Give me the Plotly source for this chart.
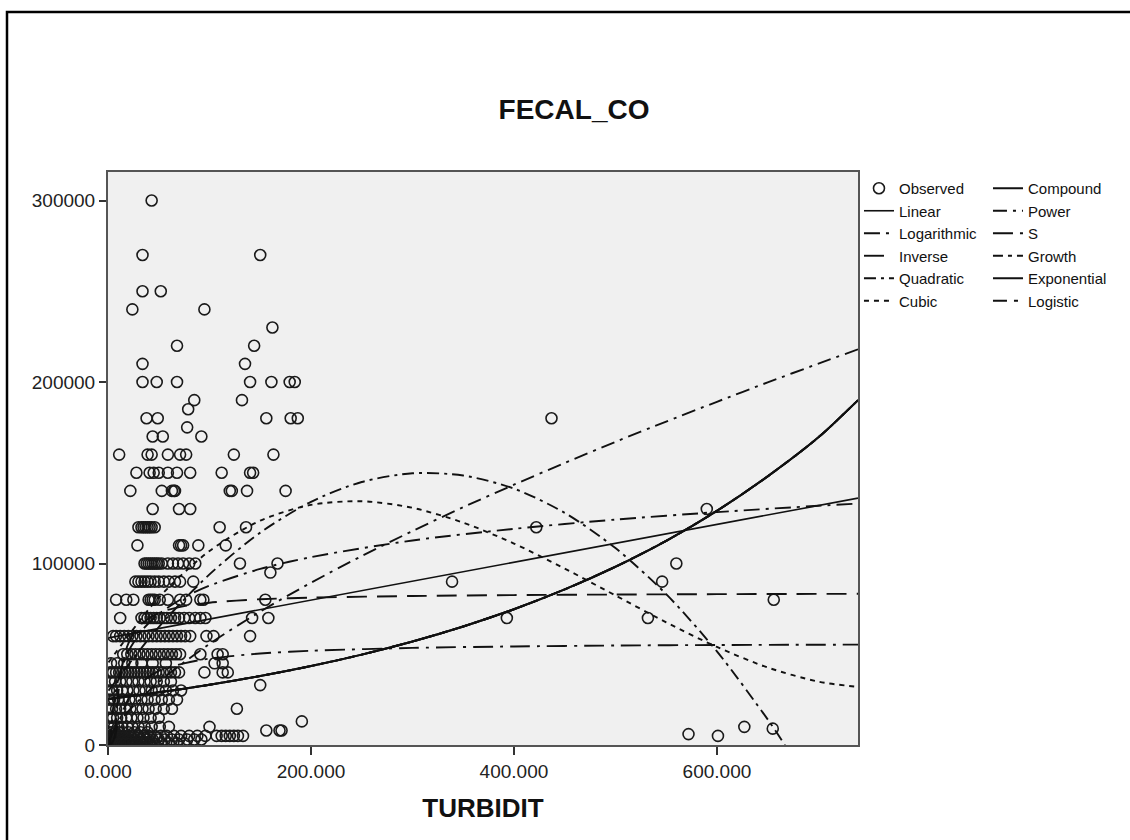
import plotly.graph_objects as go

# Each row: one FECAL_CO level and the TURBIDIT values of the circles on that level
OBS_ROWS = [
    (300000, [43]),
    (270000, [34, 150]),
    (250000, [34, 52]),
    (240000, [24, 95]),
    (230000, [162]),
    (220000, [68, 144]),
    (210000, [34, 135]),
    (200000, [34, 48, 68, 140, 161, 179, 184]),
    (190000, [85, 132]),
    (185000, [79]),
    (180000, [38, 49, 156, 180, 187, 437]),
    (175000, [78]),
    (170000, [44, 54, 92]),
    (160000, [11, 39, 43, 59, 71, 77, 124, 163]),
    (150000, [28, 41, 45, 50, 59, 68, 81, 112, 140, 143]),
    (140000, [22, 53, 63, 65, 66, 120, 122, 137, 175]),
    (130000, [44, 70, 81, 590]),
    (120000, [30, 33, 35, 37, 39, 41, 43, 46, 110, 136, 422]),
    (110000, [29, 70, 72, 74, 89, 116]),
    (100000, [36, 38, 40, 42, 44, 46, 48, 50, 53, 59, 64, 69, 74, 80, 86, 130, 167, 560]),
    (95000, [160]),
    (90000, [27, 30, 33, 36, 39, 42, 46, 50, 55, 60, 66, 71, 84, 339, 546]),
    (80000, [8, 18, 25, 40, 42, 44, 46, 51, 59, 71, 77, 91, 94, 155, 656]),
    (70000, [12, 33, 36, 39, 42, 45, 48, 51, 55, 58, 62, 66, 70, 75, 80, 86, 91, 96, 142, 158, 393, 532]),
    (60000, [5, 8, 12, 16, 20, 24, 28, 32, 36, 40, 44, 48, 52, 56, 60, 64, 68, 72, 76, 81, 97, 104, 140]),
    (50000, [15, 19, 23, 27, 31, 35, 39, 43, 47, 51, 55, 59, 63, 67, 71, 91, 108, 113]),
    (45000, [3, 9, 16, 24, 33, 44, 57, 105, 113]),
    (40000, [2, 5, 8, 11, 14, 17, 20, 23, 26, 29, 32, 35, 38, 41, 44, 47, 50, 54, 58, 62, 66, 70, 95, 113, 118]),
    (35000, [3, 7, 12, 18, 24, 30, 36, 42, 48, 55, 62]),
    (33000, [150]),
    (30000, [1, 4, 9, 14, 19, 25, 31, 37, 43, 50, 57, 64, 72]),
    (25000, [2, 6, 10, 15, 21, 27, 33, 39, 46, 53, 60, 68]),
    (20000, [1, 4, 8, 12, 17, 22, 28, 34, 40, 47, 55, 63, 127]),
    (15000, [2, 5, 9, 13, 18, 23, 29, 35, 42, 50]),
    (13000, [191]),
    (10000, [1, 3, 6, 10, 14, 19, 24, 30, 36, 43, 51, 60, 100, 627]),
    (9000, [655]),
    (8000, [156, 169, 171]),
    (7000, [1, 4, 7, 11, 15, 20, 26, 32, 39]),
    (6000, [572]),
    (5000, [2, 5, 8, 12, 16, 20, 25, 30, 35, 40, 46, 52, 58, 65, 72, 80, 88, 96,
             107, 112, 116, 120, 124, 128, 133, 601]),
    (4000, [1, 3, 5, 8, 11, 15, 19, 24, 29, 35, 41, 48]),
    (3000, [1, 3, 6, 9, 13, 17, 21, 26, 31, 37, 44, 50, 56, 63, 70, 78, 85, 92]),
    (2000, [1, 2, 5, 9, 13, 18, 23, 28, 34, 41]),
    (1500, [1, 3, 6, 9, 12, 16, 21, 26, 32, 39]),
    (1000, [0.5, 2, 4, 7, 10, 14, 18, 22, 27, 33, 38, 45, 52, 60, 68, 75]),
    (500, [1, 3, 5, 8, 12, 16, 20, 25, 30, 36, 42]),
]

# ---------------- Fitted curves, values ----------------
LINEAR_X = [0.5, 739]
LINEAR_Y = [59000, 136000]

LOG_X = [2, 5, 10, 20, 35, 50, 75, 100, 150, 200, 300, 400, 500, 600, 700, 739]
LOG_Y = [0, 20150, 35800, 51500, 64100, 72200, 81300, 87800, 97000, 103500,
         112700, 119100, 124200, 128300, 131800, 133000]

INV_X = [7, 10, 15, 20, 30, 50, 75, 100, 150, 200, 300, 400, 500, 600, 739]
INV_Y = [3600, 27800, 46500, 55900, 65300, 72800, 76500, 78400, 80300, 81200,
         82100, 82600, 82900, 83100, 83300]

QUAD_X = [0.5, 50, 100, 150, 200, 250, 300, 350, 400, 450, 500, 550, 600, 650, 667]
QUAD_Y = [30000, 65000, 94000, 117000, 134000, 144900, 149700, 148500, 141250,
          127900, 108500, 83100, 51600, 14100, 0]

CUBIC_X = [0.5, 50, 100, 150, 200, 250, 300, 350, 400, 450, 500, 550, 600, 650, 700, 739]
CUBIC_Y = [45500, 81200, 106900, 123600, 132300, 134300, 130700, 122500, 111000,
           97200, 82400, 67600, 54000, 42700, 34900, 32000]

POWER_X = [1, 5, 10, 20, 50, 100, 150, 200, 250, 300, 350, 400, 450, 500, 550, 600, 650, 700, 739]
POWER_Y = [2400, 7200, 11600, 18600, 34700, 55700, 73500, 89400, 104100, 117900,
           131000, 143400, 155400, 167000, 178200, 189100, 199800, 210100, 218000]

S_X = [3, 5, 10, 20, 30, 50, 75, 100, 150, 200, 300, 400, 500, 600, 739]
S_Y = [300, 2300, 11400, 25300, 33000, 40800, 45000, 47600, 50400, 51900,
       53500, 54300, 54800, 55100, 55300]

# Compound / Growth / Exponential / Logistic give the same fitted curve
EXP_X = [0.5, 50, 100, 150, 200, 250, 300, 350, 400, 450, 500, 550, 600, 650, 700, 739]
EXP_Y = [25300, 29000, 33200, 38000, 43500, 49800, 57000, 65300, 74800, 85700,
         98200, 112500, 129000, 148000, 169500, 190000]

X_TICKS = [0, 200, 400, 600]
Y_TICKS = [0, 100000, 200000, 300000]

obs_x, obs_y = [], []
for fec, turbs in OBS_ROWS:
    for t in turbs:
        obs_x.append(t)
        obs_y.append(fec)

FONT = "Liberation Sans, Arial, sans-serif"
INK = "#111111"

fig = go.Figure()

fig.add_trace(go.Scatter(
    x=obs_x, y=obs_y, mode="markers", name="Observed", legend="legend",
    marker=dict(symbol="circle-open", size=11, color="#1a1a1a", line=dict(width=1.6)),
))

curves = [
    # name, x, y, dash, width, legend
    ("Compound", EXP_X, EXP_Y, "solid", 2.0, "legend2"),
    ("Linear", LINEAR_X, LINEAR_Y, "solid", 1.6, "legend"),
    ("Power", POWER_X, POWER_Y, "14px,6px,3px,6px", 1.9, "legend2"),
    ("Logarithmic", LOG_X, LOG_Y, "16px,6px,3px,6px", 1.9, "legend"),
    ("S", S_X, S_Y, "20px,7px,3px,7px", 1.9, "legend2"),
    ("Inverse", INV_X, INV_Y, "20px,10px", 1.9, "legend"),
    ("Growth", EXP_X, EXP_Y, "10px,5px,4px,5px", 2.0, "legend2"),
    ("Quadratic", QUAD_X, QUAD_Y, "12px,5px,3px,5px", 1.9, "legend"),
    ("Exponential", EXP_X, EXP_Y, "solid", 2.0, "legend2"),
    ("Cubic", CUBIC_X, CUBIC_Y, "5px,5px", 1.9, "legend"),
    ("Logistic", EXP_X, EXP_Y, "14px,7px,4px,7px", 2.0, "legend2"),
]
for name, cx, cy, dash, w, lg in curves:
    fig.add_trace(go.Scatter(
        x=cx, y=cy, mode="lines", name=name, legend=lg,
        line=dict(color=INK, width=w, dash=dash, shape="spline", smoothing=0.8),
    ))

col_legend = dict(
    font=dict(family=FONT, size=15, color="#111111"),
    bgcolor="rgba(0,0,0,0)", borderwidth=0,
    xanchor="left", yanchor="top", y=1.0, tracegroupgap=0,
)

fig.update_layout(
    width=1130, height=840,
    margin=dict(l=108, r=272, t=172, b=95),
    paper_bgcolor="white",
    plot_bgcolor="#F0F0F0",
    font=dict(family=FONT, color="#222222"),
    title=dict(text="<b>FECAL_CO</b>", font=dict(family=FONT, size=28, color="#111111"),
               xref="container", x=0.508, xanchor="center",
               yref="container", y=1 - 109 / 840, yanchor="middle"),
    legend=dict(col_legend, x=1.0013),
    legend2=dict(col_legend, x=1.1733),
    showlegend=True,
    xaxis=dict(
        range=[0, 739], tickvals=X_TICKS, tickformat=".3f",
        ticks="outside", ticklen=8, tickwidth=1.5, tickcolor="#333333",
        showline=True, linecolor="#555555", linewidth=2, mirror=True,
        showgrid=False, zeroline=False,
        tickfont=dict(family=FONT, size=19, color="#222222"),
        title=dict(text="<b>TURBIDIT</b>", font=dict(family=FONT, size=26, color="#111111"),
                   standoff=18),
    ),
    yaxis=dict(
        range=[0, 315700], tickvals=Y_TICKS, tickformat="d",
        ticks="outside", ticklen=7, tickwidth=1.5, tickcolor="#333333",
        showline=True, linecolor="#555555", linewidth=2, mirror=True,
        showgrid=False, zeroline=False,
        tickfont=dict(family=FONT, size=19, color="#222222"),
    ),
    shapes=[dict(
        type="rect", xref="paper", yref="paper",
        x0=(7 - 108) / 750, x1=2.0, y0=-1.0, y1=(745 - 12) / 573,
        line=dict(color="black", width=2.5), fillcolor="rgba(0,0,0,0)",
    )],
)

fig.write_html("out.html")
